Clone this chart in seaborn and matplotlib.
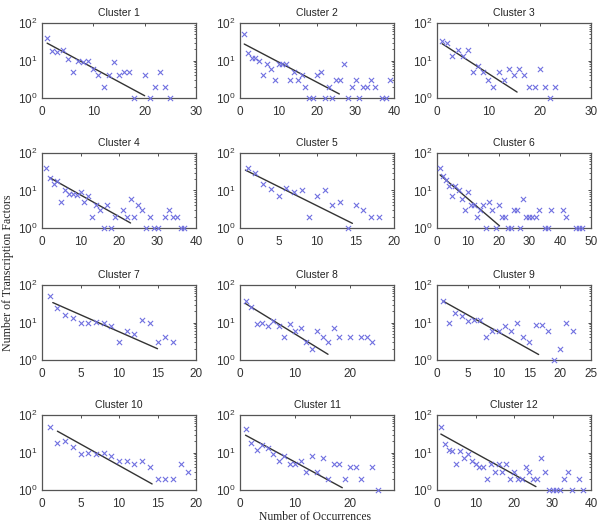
import numpy as np
import pandas as pd
import seaborn as sns
import matplotlib.pyplot as plt
from matplotlib.ticker import LogLocator, MultipleLocator, NullFormatter


# values (x = number of occurrences, y = number of TFs)
c1_x = [1, 2, 3, 4, 5, 6, 7, 8, 9, 10, 11, 12, 13, 14, 15, 16, 17, 18, 20, 21, 22, 23, 24, 25]
c1_y = [40, 18, 17, 19, 11, 5, 10, 9, 10, 6, 4, 2, 4, 9, 4, 5, 5, 1, 4, 1, 2, 5, 2, 1]
c2_x = [1, 2, 3, 4, 5, 6, 7, 8, 9, 10, 11, 12, 13, 14, 15, 16, 17, 18, 19, 20, 21, 22, 23, 24,
        25, 26, 27, 28, 29, 30, 31, 32, 33, 34, 35, 37, 38, 39]
c2_y = [50, 16, 12, 12, 10, 4, 8, 6, 3, 8, 8, 8, 3, 5, 3, 4, 2, 1, 1, 4, 5, 1, 2, 1,
        3, 3, 8, 1, 2, 3, 1, 2, 2, 3, 2, 1, 1, 3]
c3_x = [1, 2, 3, 4, 5, 6, 7, 8, 9, 10, 11, 12, 13, 14, 15, 16, 17, 18, 19, 20, 21, 22, 23]
c3_y = [33, 30, 13, 19, 13, 19, 5, 7, 5, 3, 2, 5, 3, 6, 4, 6, 4, 2, 2, 6, 2, 1, 2]
c4_x = [1, 2, 3, 4, 5, 6, 7, 8, 9, 10, 11, 12, 13, 14, 15, 16, 17, 18, 19, 21, 22, 23, 24, 25,
        26, 27, 28, 29, 30, 32, 33, 34, 35, 36, 37]
c4_y = [39, 22, 15, 18, 5, 10, 8, 8, 7.5, 9, 5, 7, 2, 4, 3, 1, 4, 1, 2, 3, 2, 6, 2, 4,
        3, 1, 2, 1, 1, 2, 3, 2, 2, 1, 1]
c5_x = [1, 2, 3, 4, 5, 6, 7, 8, 9, 10, 11, 12, 13, 14, 15, 16, 17, 18]
c5_y = [41, 29, 15, 11, 7, 12, 9, 10, 2, 7, 10, 4, 5, 1, 4, 3, 2, 2]
c6_x = [1, 2, 3, 4, 5, 6, 7, 8, 9, 10, 11, 12, 13, 14, 15, 16, 17, 18, 19, 20, 21, 22, 23, 24,
        25, 26, 27, 28, 29, 30, 31, 32, 33, 35, 36, 37, 41, 42, 45, 46, 47]
c6_y = [40, 24, 19, 13, 7, 13, 10, 6, 3, 9, 4, 4, 2, 3, 4, 1, 5, 3, 1, 4, 2, 2, 1, 1,
        3, 3, 1, 6, 2, 2, 2, 2, 3, 1, 1, 3, 3, 2, 1, 1, 1]
c7_x = [1, 2, 3, 4, 5, 6, 7, 8, 9, 10, 11, 12, 13, 14, 15, 16, 17]
c7_y = [50, 25, 16, 13, 10, 10, 10.5, 10, 8, 3, 6, 5, 12, 10, 3, 4, 3]
c8_x = [1, 2, 3, 4, 5, 6, 7, 8, 9, 10, 11, 12, 13, 14, 15, 16, 17, 18, 20, 22, 23, 24]
c8_y = [38, 26, 9, 10, 8, 11, 8, 4, 9, 6, 7, 3, 2, 6, 4, 3, 7, 4, 4, 4, 4, 3]
c9_x = [1, 2, 3, 4, 5, 6, 7, 8, 9, 10, 11, 12, 13, 14, 15, 16, 17, 18, 19, 20, 21, 22]
c9_y = [37, 10, 18, 15, 11, 12, 12, 4, 6, 6, 8, 6, 10, 4, 3, 8.5, 8.5, 6, 1, 2, 10, 6]
c10_x = [1, 2, 3, 4, 5, 6, 7, 8, 9, 10, 11, 12, 13, 14, 15, 16, 17, 18, 19]
c10_y = [47, 18, 20, 14, 9, 10, 9, 10, 8, 6, 6, 5, 6, 4, 2, 2, 2, 5, 3]
c11_x = [1, 2, 3, 4, 5, 6, 7, 8, 9, 10, 11, 12, 13, 14, 15, 16, 17, 18, 19, 20, 21, 22, 24, 25]
c11_y = [43, 18, 12, 16, 13, 9, 6, 8, 5, 5, 6, 3, 8, 3, 7, 2, 5, 5, 2, 4, 4, 2, 4, 1]
c12_x = [1, 2, 3, 4, 5, 6, 7, 8, 9, 10, 11, 12, 13, 14, 15, 16, 17, 18, 19, 20, 21, 22, 23, 24,
         25, 26, 27, 28, 29, 30, 31, 32, 33, 34, 35, 37, 38]
c12_y = [48, 17, 12, 11, 5, 11, 7, 9, 6, 5, 4, 4, 2, 5, 3, 5, 3, 5, 2, 3, 2, 2, 4, 3,
         2, 2, 7, 3, 1, 1, 1, 1, 2, 3, 1, 2, 1]

# fitted lines (end points)
fit1_x, fit1_y = [1, 20], [29, 1.15]
fit2_x, fit2_y = [1.1, 25.8], [27.5, 1.28]
fit3_x, fit3_y = [1, 15.6], [28, 1.44]
fit4_x, fit4_y = [2, 23], [22, 1.36]
fit5_x, fit5_y = [0.7, 14.6], [35, 1.33]
fit6_x, fit6_y = [1, 20.3], [26, 1.14]
fit7_x, fit7_y = [1.4, 15], [34, 2.0]
fit8_x, fit8_y = [1, 16], [32, 1.42]
fit9_x, fit9_y = [1, 16.5], [37, 1.4]
fit10_x, fit10_y = [2, 14.3], [37, 1.45]
fit11_x, fit11_y = [1, 18.6], [29, 1.15]
fit12_x, fit12_y = [1, 25.7], [31, 1.23]

xmax = [30, 40, 30, 40, 20, 50, 20, 28, 25, 20, 28, 40]
xstep = [10, 10, 10, 10, 5, 10, 5, 10, 5, 5, 10, 10]

points = [(c1_x, c1_y), (c2_x, c2_y), (c3_x, c3_y), (c4_x, c4_y), (c5_x, c5_y), (c6_x, c6_y),
          (c7_x, c7_y), (c8_x, c8_y), (c9_x, c9_y), (c10_x, c10_y), (c11_x, c11_y), (c12_x, c12_y)]
fits = [(fit1_x, fit1_y), (fit2_x, fit2_y), (fit3_x, fit3_y), (fit4_x, fit4_y), (fit5_x, fit5_y),
        (fit6_x, fit6_y), (fit7_x, fit7_y), (fit8_x, fit8_y), (fit9_x, fit9_y), (fit10_x, fit10_y),
        (fit11_x, fit11_y), (fit12_x, fit12_y)]

sns.set_style('white')
plt.rcParams['font.family'] = ['Liberation Sans', 'DejaVu Sans']
plt.rcParams['mathtext.fontset'] = 'custom'
plt.rcParams['mathtext.rm'] = 'Liberation Sans'

W, H = 602, 526
fig = plt.figure(figsize=(W / 100, H / 100), dpi=100)

lefts = [42, 240, 437]
tops = [23, 153, 285, 415]
aw, ah = 154, 75

for i in range(12):
    r, c = divmod(i, 3)
    ax = fig.add_axes([lefts[c] / W, 1 - (tops[r] + ah) / H, aw / W, ah / H])
    df = pd.DataFrame({'occ': points[i][0], 'tf': points[i][1]})
    sns.scatterplot(data=df, x='occ', y='tf', marker='x', color='#7070e0', s=14,
                    linewidth=0.8, ax=ax, clip_on=False, zorder=3)
    fdf = pd.DataFrame({'occ': fits[i][0], 'tf': fits[i][1]})
    sns.lineplot(data=fdf, x='occ', y='tf', color='#333333', linewidth=1.0, ax=ax)
    ax.set_yscale('log')
    ax.set_ylim(1, 100)
    ax.set_xlim(0, xmax[i])
    ax.xaxis.set_major_locator(MultipleLocator(xstep[i]))
    ax.yaxis.set_major_locator(LogLocator(base=10, numticks=5))
    ax.yaxis.set_minor_locator(LogLocator(base=10, subs=np.arange(2, 10), numticks=10))
    ax.yaxis.set_minor_formatter(NullFormatter())
    ax.tick_params(direction='in', top=True, right=True, labelsize=8.5, length=2.5,
                   width=0.6, colors='#333333', pad=3)
    ax.tick_params(axis='x', pad=6)
    ax.tick_params(which='minor', direction='in', right=True, left=False, length=1.5, width=0.5)
    for sp in ax.spines.values():
        sp.set_color('#555555')
        sp.set_linewidth(0.9)
    ax.set_xlabel('')
    ax.set_ylabel('')
    ax.set_title(f'Cluster {i + 1}', fontsize=7.5, pad=5, color='#222222')

fig.text(315 / W, 1 - 517 / H, 'Number of Occurrences', ha='center', va='center',
         fontsize=8.4, family='Liberation Serif')
fig.text(8 / W, 1 - 273 / H, 'Number of Transcription Factors', ha='center', va='center',
         rotation=90, fontsize=8.6, family='Liberation Serif')

plt.savefig('out.png', dpi=100)
